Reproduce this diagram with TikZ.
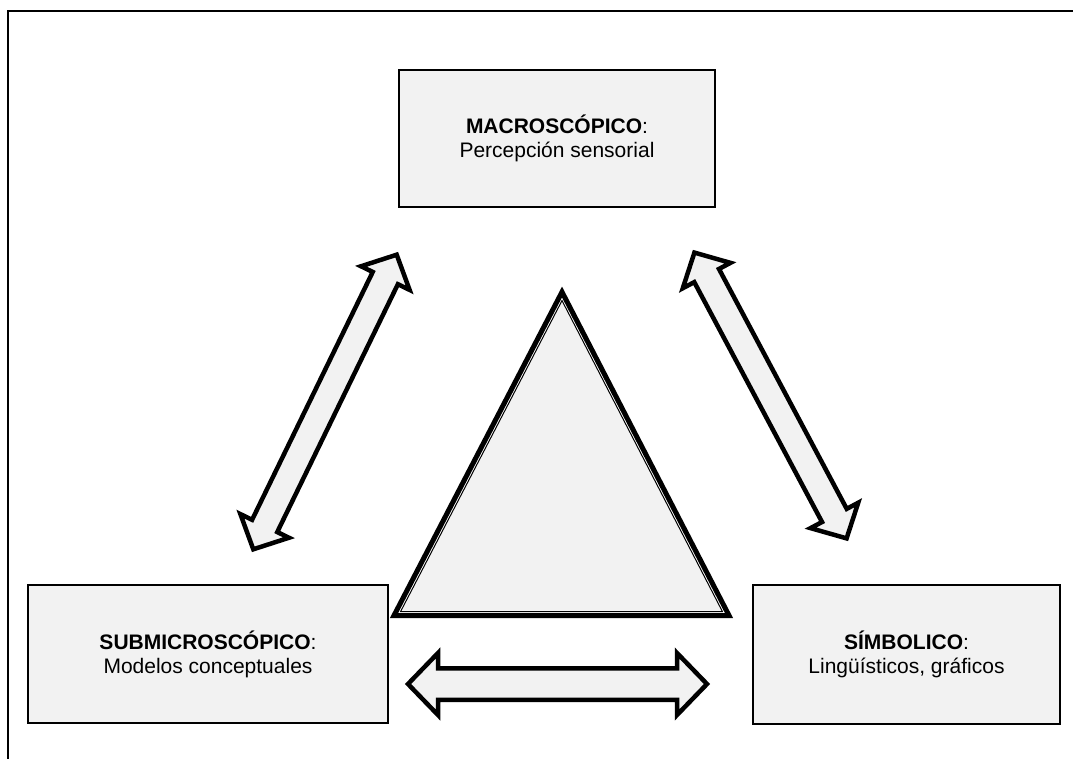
\documentclass[tikz,border=0pt]{standalone}
\usepackage{fontspec}
\setmainfont{Liberation Sans}
\usetikzlibrary{calc}
\definecolor{panel}{HTML}{F2F2F2}
\newdimen\arrax \newdimen\array \newdimen\arrbx \newdimen\arrby
% fat block arrow with two heads: from, to, shaft half width, head half width, head length
\newcommand\fatarrow[5]{%
  \pgfextractx{\arrax}{\pgfpointanchor{#1}{center}}%
  \pgfextracty{\array}{\pgfpointanchor{#1}{center}}%
  \pgfextractx{\arrbx}{\pgfpointanchor{#2}{center}}%
  \pgfextracty{\arrby}{\pgfpointanchor{#2}{center}}%
  \pgfmathsetmacro\arrang{atan2(\arrby-\array,\arrbx-\arrax)}%
  \pgfmathsetmacro\arrlen{veclen(\arrbx-\arrax,\arrby-\array)}%
  \begin{scope}[shift={(#1)},rotate=\arrang]
    \draw[fatarrow] (0,0) -- (#5,#4) -- (#5,#3) -- (\arrlen-#5,#3) -- (\arrlen-#5,#4) -- (\arrlen,0)
      -- (\arrlen-#5,-#4) -- (\arrlen-#5,-#3) -- (#5,-#3) -- (#5,-#4) -- cycle;
  \end{scope}}

\begin{document}
\begin{tikzpicture}[x=1pt, y=-1pt, line join=miter,
	nivel/.style={draw, line width=2.5pt, fill=panel, align=center, inner sep=0pt,
		font=\fontsize{21}{24}\selectfont},
	fatarrow/.style={draw, line width=4.5pt, fill=panel, line join=miter}]
	\useasboundingbox (0,0) rectangle (1073,759);
	\clip (0,0) rectangle (1073,759);
	% frame
	\draw[line width=2.7pt] (8,770) -- (8,11) -- (1080,11);
	% the three levels
	\node[nivel, minimum width=316pt, minimum height=137pt] (macro) at (557,138.5)
		{\textbf{MACROSCÓPICO}:\\Percepción sensorial};
	\node[nivel, minimum width=360pt, minimum height=138pt] (submicro) at (208,654)
		{\textbf{SUBMICROSCÓPICO}:\\Modelos conceptuales};
	\node[nivel, minimum width=307pt, minimum height=139pt] (simbolico) at (906.5,654.5)
		{\textbf{SÍMBOLICO}:\\Lingüísticos, gráficos};
	% triangle
	\draw[line width=5pt, fill=white] (562,292) -- (394,615.5) -- (729,615.5) -- cycle;
	\draw[line width=1pt, fill=panel] (562,300.6) -- (400.6,611.5) -- (722.4,611.5) -- cycle;
	% arrows between the levels
	\coordinate (l1) at (253.3,549.3); \coordinate (l2) at (396.7,254.7);
	\coordinate (r1) at (694.4,252.6); \coordinate (r2) at (846.6,538.4);
	\coordinate (b1) at (408,684);     \coordinate (b2) at (707,684);
	\fatarrow{l1}{l2}{14}{27}{26}
	\fatarrow{r1}{r2}{14}{27}{26}
	\fatarrow{b1}{b2}{15.75}{31}{30}
\end{tikzpicture}
\end{document}
